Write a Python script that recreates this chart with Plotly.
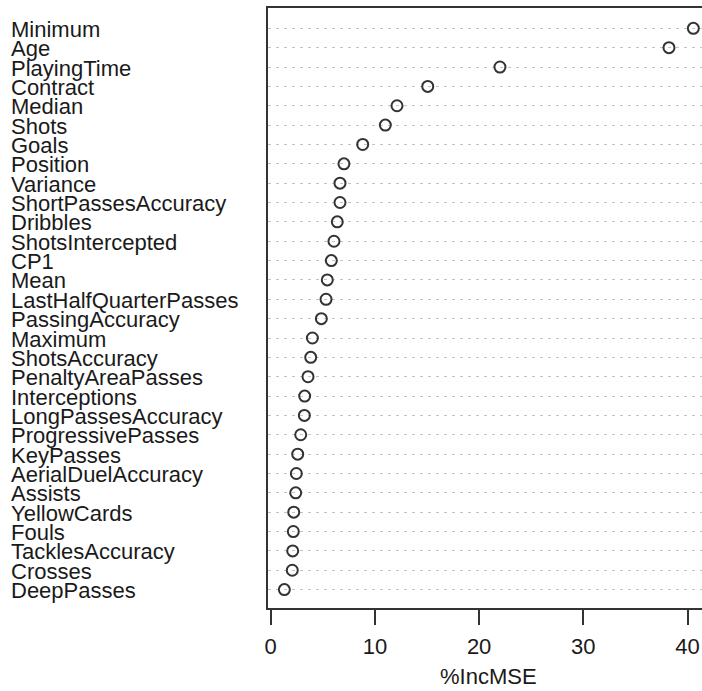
import plotly.graph_objects as go

variables = ["Minimum", "Age", "PlayingTime", "Contract", "Median", "Shots", "Goals",
             "Position", "Variance", "ShortPassesAccuracy", "Dribbles", "ShotsIntercepted",
             "CP1", "Mean", "LastHalfQuarterPasses", "PassingAccuracy", "Maximum",
             "ShotsAccuracy", "PenaltyAreaPasses", "Interceptions", "LongPassesAccuracy",
             "ProgressivePasses", "KeyPasses", "AerialDuelAccuracy", "Assists",
             "YellowCards", "Fouls", "TacklesAccuracy", "Crosses", "DeepPasses"]
inc_mse = [40.56, 38.22, 22.0, 15.07, 12.12, 11.0, 8.83,
           7.03, 6.65, 6.65, 6.39, 6.07,
           5.82, 5.43, 5.31, 4.86, 4.0,
           3.84, 3.58, 3.26, 3.23,
           2.88, 2.59, 2.46, 2.40,
           2.21, 2.17, 2.11, 2.07, 1.31]
x_ticks = [0, 10, 20, 30, 40]

order = list(reversed(variables))  # bottom to top

W, H = 702, 691
ml, mr, mt, mb = 268, 0, 8, 83

fig = go.Figure()
fig.add_trace(go.Scatter(
    x=inc_mse, y=variables, mode="markers",
    marker=dict(symbol="circle-open", size=11, color="#333333",
                line=dict(width=2, color="#333333")),
    hoverinfo="x+y", showlegend=False, cliponaxis=False,
))

font = dict(family="Liberation Sans, Arial, sans-serif", size=22, color="#1a1a1a")

for v in variables:
    fig.add_annotation(x=(9 - ml) / (W - ml - mr), xref="paper", y=v, yref="y",
                       text=v, showarrow=False, xanchor="left", yanchor="middle",
                       font=font, yshift=-1)

fig.add_annotation(x=(488 - ml) / (W - ml - mr), xref="paper", y=-(H - 0.5 - (H - mb)) / (H - mt - mb),
                   yref="paper", text="%IncMSE", showarrow=False,
                   xanchor="center", yanchor="bottom", font=font)

fig.update_layout(
    width=W, height=H,
    margin=dict(l=ml, r=mr, t=mt, b=mb, pad=0),
    paper_bgcolor="white", plot_bgcolor="white",
    font=font,
    xaxis=dict(range=[-0.26, 41.39], tickvals=x_ticks, ticktext=[str(t) for t in x_ticks],
               showgrid=False, zeroline=False, showline=True, mirror=True,
               linecolor="#333333", linewidth=1.5, ticks="outside", ticklen=15,
               tickwidth=1.5, tickcolor="#333333", tickfont=font, ticklabelstandoff=3),
    yaxis=dict(type="category", categoryorder="array", categoryarray=order,
               range=[-0.95, 30.05], showticklabels=False, ticks="",
               showgrid=True, gridcolor="#c4c4c4", gridwidth=1.3, griddash="2.5px,5.5px",
               zeroline=False, showline=True, mirror=False,
               linecolor="#333333", linewidth=1.5),
)

fig.write_html("out.html", config={"displayModeBar": False},
               post_script="document.body.style.margin='0';document.body.style.overflow='hidden';")
